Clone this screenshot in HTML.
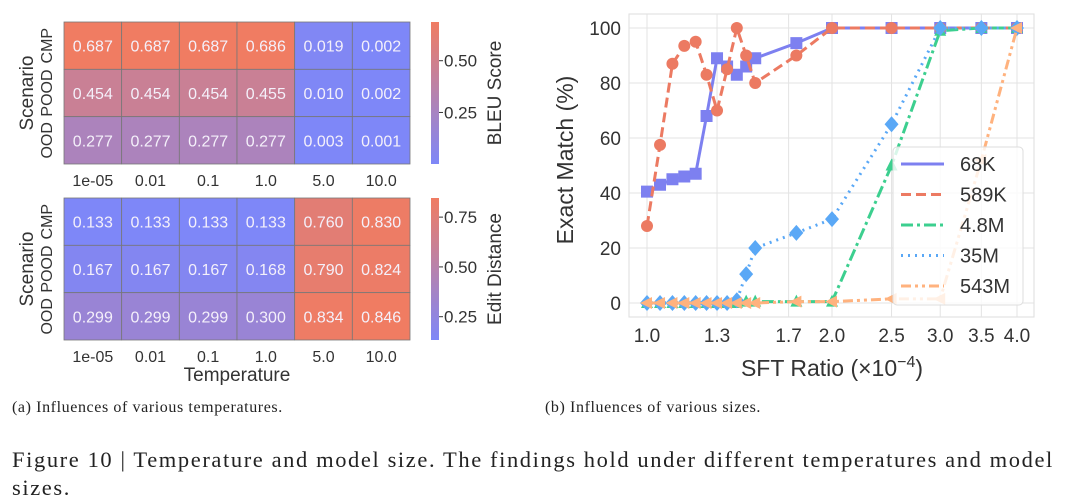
<!DOCTYPE html>
<html><head><meta charset="utf-8"><style>
body{margin:0;background:#fff;width:1080px;height:500px;overflow:hidden;font-family:"Liberation Sans",sans-serif}
svg text{font-family:"Liberation Sans",sans-serif}
.cap{position:absolute;font-family:"Liberation Serif",serif;color:#222;white-space:nowrap}
</style></head><body>
<svg id="fig" width="1080" height="500" style="position:absolute;left:0;top:0"></svg>
<div class="cap" style="left:12px;top:399px;font-size:16px;letter-spacing:0.6px">(a) Influences of various temperatures.</div>
<div class="cap" style="left:545px;top:399px;font-size:16px;letter-spacing:0.6px">(b) Influences of various sizes.</div>
<div class="cap" style="left:12px;top:446px;font-size:22.5px;line-height:28px;letter-spacing:1.6px">Figure 10 | Temperature and model size. The findings hold under different temperatures and model<br>sizes.</div>
<script>
const temps=["1e-05","0.01","0.1","1.0","5.0","10.0"];
const scenarios=["CMP","POOD","OOD"];
const bleu=[[0.687,0.687,0.687,0.686,0.019,0.002],[0.454,0.454,0.454,0.455,0.010,0.002],[0.277,0.277,0.277,0.277,0.003,0.001]];
const edit=[[0.133,0.133,0.133,0.133,0.760,0.830],[0.167,0.167,0.167,0.168,0.790,0.824],[0.299,0.299,0.299,0.300,0.834,0.846]];
const xRatios=[1.0,1.05,1.1,1.15,1.2,1.25,1.3,1.35,1.4,1.45,1.5,1.75,2.0,2.5,3.0,3.5,4.0];
const s68K=[40.5,43,45,46,47,68,89,86,83,86,89,94.5,100,100,100,100,100];
const s589K=[28,57.5,87,93.5,95,83,70,85,100,90,80,90,100,100,100,100,100];
const s48M=[0,0,0,0,0,0,0,0,0,0.5,0.5,0.5,0.5,50,99,100,100];
const s35M=[0,0,0,0,0,0,0,0,1,10.5,20,25.5,30.5,65,100,100,100];
const s543M=[0,0,0,0,0,0,0,0,0,0,0,0.5,0.5,1.5,1.5,52,100];
const xTicks=[1.0,1.3,1.7,2.0,2.5,3.0,3.5,4.0];
const yTicks=[0,20,40,60,80,100];

const svg=document.getElementById('fig');
const NS='http://www.w3.org/2000/svg';
function mk(tag,attrs,parent){const e=document.createElementNS(NS,tag);for(const k in attrs)e.setAttribute(k,attrs[k]);(parent||svg).appendChild(e);return e;}
function txt(s,attrs,parent){const e=mk('text',attrs,parent);e.textContent=s;return e;}
const lo=[126,135,248],hi=[240,124,98];
function cmap(t){t=Math.max(0,Math.min(1,t));return 'rgb('+lo.map((v,i)=>Math.round(v+(hi[i]-v)*t)).join(',')+')';}

function heat(data,y0,vmin,vmax,cbTicks,cbTitle,name){
  const x0=64,w=346,h=142,cw=w/6,rh=h/3;
  const g=mk('g',{});
  
  
  data.forEach((row,r)=>row.forEach((v,c)=>{
    const rc=mk('rect',{x:x0+c*cw,y:y0+r*rh,width:cw,height:rh,fill:cmap((v-vmin)/(vmax-vmin)),stroke:'#777','stroke-width':0.8},g);
    
    
    const t=txt(v.toFixed(3),{x:x0+c*cw+cw/2,y:y0+r*rh+rh/2+6,'text-anchor':'middle','font-size':16,fill:'#f4f0fa'},g);
    
    
  }));
  temps.forEach((s,c)=>{const t=txt(s,{x:x0+c*cw+cw/2,y:y0+h+22,'text-anchor':'middle','font-size':16,fill:'#333'},g);
    });
  scenarios.forEach((s,r)=>{const cy=y0+r*rh+rh/2;const t=txt(s,{x:0,y:0,transform:`translate(52,${cy}) rotate(-90)`,'text-anchor':'middle','font-size':16,fill:'#333'},g);
    });
  const yt=txt('Scenario',{x:0,y:0,transform:`translate(33,${y0+h/2}) rotate(-90)`,'text-anchor':'middle','font-size':19,fill:'#333'},g);
  
  const cbx=431,cbw=8;
  const grad=mk('linearGradient',{id:name+'-g',x1:0,y1:1,x2:0,y2:0},mk('defs',{},g));
  [0,0.5,1].forEach(o=>mk('stop',{offset:o,'stop-color':cmap(o)},grad));
  const cb=mk('rect',{x:cbx,y:y0,width:cbw,height:h,fill:`url(#${name}-g)`},g);
  
  cbTicks.forEach(v=>{const y=y0+h-(v-vmin)/(vmax-vmin)*h;
    mk('line',{x1:cbx+cbw,x2:cbx+cbw+4,y1:y,y2:y,stroke:'#333'},g);
    const t=txt(v.toFixed(2),{x:cbx+cbw+5,y:y+6,'font-size':17,fill:'#333'},g);
    });
  const ct=txt(cbTitle,{x:0,y:0,transform:`translate(501,${y0+h/2}) rotate(-90)`,'text-anchor':'middle','font-size':19,fill:'#333'},g);
  
}
heat(bleu,22,0.001,0.687,[0.25,0.5],'BLEU Score','bleu-heatmap');
heat(edit,198,0.133,0.846,[0.25,0.5,0.75],'Edit Distance','edit-heatmap');
const tt=txt('Temperature',{x:237,y:381,'text-anchor':'middle','font-size':19,fill:'#333'});


const px0=629,px1=1034,py0=14,py1=317;
const X=v=>647+Math.log(v)/Math.log(4)*370;
const Y=v=>303-v*2.75;
const cg=mk('g',{});

mk('rect',{x:px0,y:py0,width:px1-px0,height:py1-py0,fill:'#fff',stroke:'#ddd'},cg);
yTicks.forEach(v=>{mk('line',{x1:px0,x2:px1,y1:Y(v),y2:Y(v),stroke:'#e3e3e3'},cg);
  const t=txt(String(v),{x:px0-8,y:Y(v)+7,'text-anchor':'end','font-size':19,fill:'#333'},cg);
  });
xTicks.forEach(v=>{mk('line',{x1:X(v),x2:X(v),y1:py0,y2:py1,stroke:'#e3e3e3'},cg);
  const t=txt(v.toFixed(1),{x:X(v),y:342,'text-anchor':'middle','font-size':19,fill:'#333'},cg);
  });
const yl=txt('Exact Match (%)',{x:0,y:0,transform:'translate(573,160) rotate(-90)','text-anchor':'middle','font-size':23,fill:'#333'},cg);

const xl=txt('',{x:832,y:376,'text-anchor':'middle','font-size':23,fill:'#333'},cg);
xl.innerHTML='SFT Ratio (×10<tspan dy="-9" font-size="16">−4</tspan><tspan dy="9">)</tspan>';


const series=[
 {n:'68K',d:s68K,c:'#7d80f0',dash:'',m:'square'},
 {n:'589K',d:s589K,c:'#ec7a62',dash:'10,5',m:'circle'},
 {n:'4.8M',d:s48M,c:'#3ccf8f',dash:'12,4,3,4',m:'triup'},
 {n:'35M',d:s35M,c:'#5aa8f6',dash:'2,5',m:'diamond'},
 {n:'543M',d:s543M,c:'#ffb27e',dash:'10,4,3,4,3,4',m:'trileft'}];
function marker(type,x,y,c,g){
  let e;
  if(type==='square')e=mk('rect',{x:x-6,y:y-6,width:12,height:12,fill:c},g);
  else if(type==='circle')e=mk('circle',{cx:x,cy:y,r:6,fill:c},g);
  else if(type==='diamond')e=mk('polygon',{points:`${x},${y-8} ${x+7},${y} ${x},${y+8} ${x-7},${y}`,fill:c},g);
  else if(type==='triup')e=mk('polygon',{points:`${x},${y-7} ${x+6},${y+5} ${x-6},${y+5}`,fill:c},g);
  else e=mk('polygon',{points:`${x-7},${y} ${x+5},${y-6} ${x+5},${y+6}`,fill:c},g);
  
  
}
series.forEach(s=>{
  const g=mk('g',{},cg);
  
  
  const pts=s.d.map((v,i)=>X(xRatios[i])+','+Y(v)).join(' ');
  const pl=mk('polyline',{points:pts,fill:'none',stroke:s.c,'stroke-width':3,'stroke-dasharray':s.dash},g);
  
  s.d.forEach((v,i)=>marker(s.m,X(xRatios[i]),Y(v),s.c,g));
});
const lg=mk('g',{},cg);

mk('rect',{x:893,y:147,width:130,height:158,rx:4,fill:'rgba(255,255,255,0.8)',stroke:'#ddd'},lg);
series.forEach((s,i)=>{const y=164+i*30.5;
  const e=mk('g',{},lg);
  
  mk('line',{x1:901,x2:944,y1:y,y2:y,stroke:s.c,'stroke-width':3,'stroke-dasharray':s.dash},e);
  txt(s.n,{x:960,y:y+7,'font-size':20,fill:'#333'},e);
});
</script>
</body></html>
